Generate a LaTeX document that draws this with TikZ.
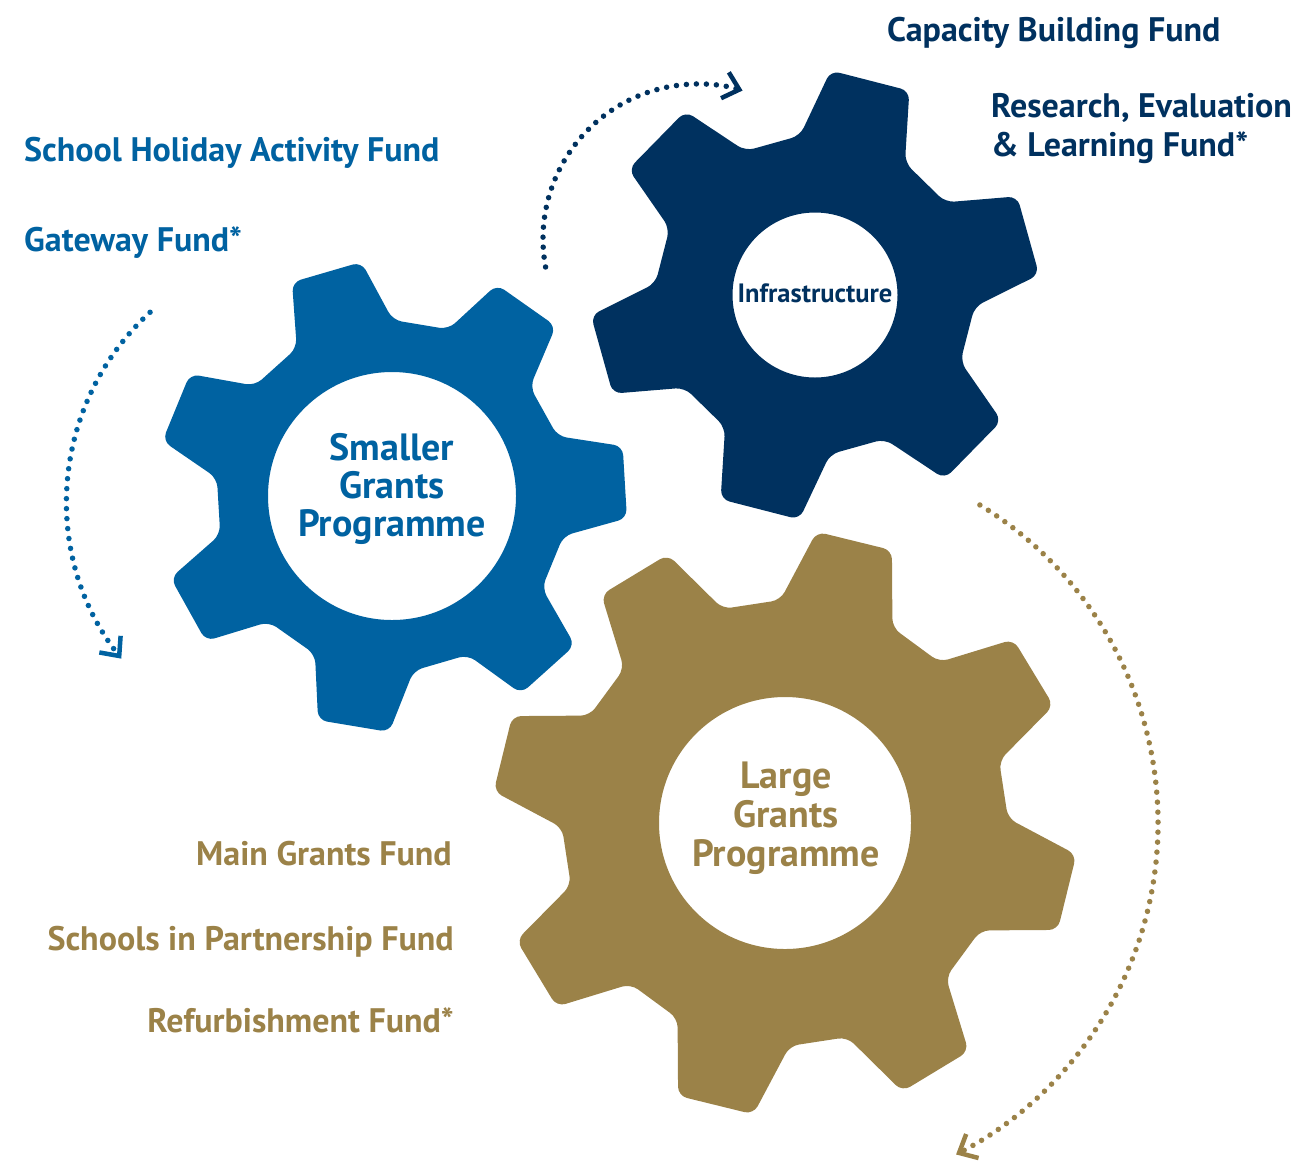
\documentclass[tikz,border=0pt]{standalone}
\usepackage{fontspec}
\setmainfont{PT Sans}
\usetikzlibrary{arrows.meta}
\definecolor{cblue}{HTML}{0062A1}
\definecolor{cnavy}{HTML}{00315F}
\definecolor{cgold}{HTML}{9B8248}
% #1 centre, #2 teeth, #3 phase, #4 tip radius, #5 tip half-angle, #6 root radius, #7 root half-angle, #8 hole radius, #9 style
\newcommand\drawgear[9]{%
  \pgfmathsetmacro\gstartr{#6*cos(180/#2-#7)}%
  \fill[#9,rounded corners=9pt,even odd rule]
  ([shift={(#1)}]#3-180/#2:\gstartr)
  \foreach \k in {1,...,#2}{
    -- ([shift={(#1)}]#3+\k*360/#2-360/#2-#7:#6)
    -- ([shift={(#1)}]#3+\k*360/#2-360/#2-#5:#4)
    -- ([shift={(#1)}]#3+\k*360/#2-360/#2+#5:#4)
    -- ([shift={(#1)}]#3+\k*360/#2-360/#2+#7:#6)
  } -- cycle
  (#1) circle[radius=#8];
}
\tikzset{
  lbl/.style={font=\bfseries\fontsize{34}{40}\selectfont, inner sep=0pt, anchor=base west},
  lblr/.style={lbl, anchor=base east},
  gtxt/.style={font=\bfseries\fontsize{38}{42}\selectfont, inner sep=0pt, anchor=base},
  dotline/.style={line width=5.5pt, line cap=round, dash pattern=on 0pt off 10pt,
    -{Straight Barb[length=15pt,width=27pt,line width=4.5pt]}},
}
\begin{document}
\begin{tikzpicture}[x=1pt,y=1pt]
\fill[white] (0,0) rectangle (1297,-1163);
\useasboundingbox (0,0) rectangle (1297,-1163);

\coordinate (bc) at (392,-496);
\coordinate (nc) at (815,-295);
\coordinate (gc) at (785,-823);
\coordinate (barc) at (323,-501);
\coordinate (narc) at (698,-239);

% gears
\drawgear{bc}{7}{3.4}{236}{8.8}{176}{16.5}{124}{cblue}
\drawgear{nc}{6}{15.6}{225}{10.4}{160}{19.8}{82.5}{cnavy}
\drawgear{gc}{8}{31.2}{293}{7.6}{223}{15}{126}{cgold}

% dotted arcs with arrow heads
\draw[dotline, cblue] ([shift={(barc)}]132.5:256) arc[start angle=132.5, end angle=218, radius=256];
\draw[dotline, cnavy] ([shift={(narc)}]190.4:155) arc[start angle=190.4, end angle=73.3, radius=155];
\draw[dotline, cgold] ([shift={(gc)}]58.5:373) arc[start angle=58.5, end angle=-62.7, radius=373];

% gear labels
\node[gtxt, text=cblue] (sg1) at (392,-460) {Smaller};
\node[gtxt, text=cblue] (sg2) at (392,-498) {Grants};
\node[gtxt, text=cblue] (sg3) at (392,-536) {Programme};
\node[gtxt, text=cnavy, font=\bfseries\fontsize{26.5}{30}\selectfont] (inf) at (815,-302) {Infrastructure};
\node[gtxt, text=cgold] (lg1) at (786,-788) {Large};
\node[gtxt, text=cgold] (lg2) at (786,-827) {Grants};
\node[gtxt, text=cgold] (lg3) at (786,-866) {Programme};

% fund labels
\node[lbl, text=cnavy] (cbf) at (887,-41) {Capacity Building Fund};
\node[lbl, text=cnavy] (rel1) at (991,-117) {Research, Evaluation};
\node[lbl, text=cnavy] (rel2) at (991,-156) {\& Learning Fund*};
\node[lbl, text=cblue] (shaf) at (24,-161) {School Holiday Activity Fund};
\node[lbl, text=cblue] (gwf) at (24,-251) {Gateway Fund*};
\node[lblr, text=cgold] (mgf) at (452,-865) {Main Grants Fund};
\node[lblr, text=cgold] (sipf) at (454,-950) {Schools in Partnership Fund};
\node[lblr, text=cgold] (rf) at (454,-1032) {Refurbishment Fund*};
\end{tikzpicture}
\end{document}
